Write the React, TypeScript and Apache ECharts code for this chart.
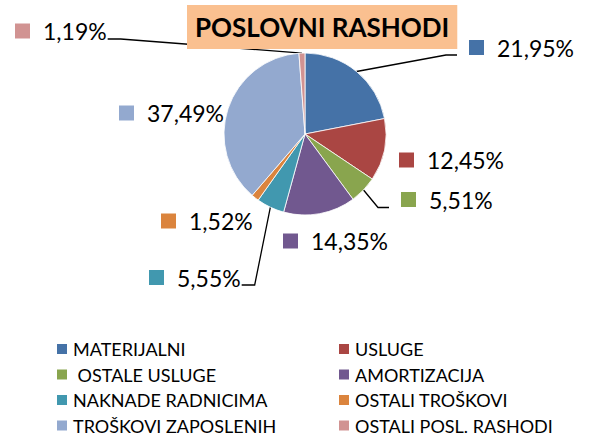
import React, { useEffect, useRef } from 'react';
import * as echarts from 'echarts';

// ---- data ----
const categories = [
  'MATERIJALNI',
  'USLUGE',
  ' OSTALE USLUGE',
  'AMORTIZACIJA',
  'NAKNADE RADNICIMA',
  'OSTALI TROŠKOVI',
  'TROŠKOVI ZAPOSLENIH',
  'OSTALI POSL. RASHODI',
];
const shares = [21.95, 12.45, 5.51, 14.35, 5.55, 1.52, 37.49, 1.19];
const leftLegendIdx = [0, 2, 4, 6];
const rightLegendIdx = [1, 3, 5, 7];
const titleText = 'POSLOVNI RASHODI';

// ---- styles / layout ----
const colors = ['#4572A7', '#AA4643', '#89A54E', '#71588F', '#4198AF', '#DB843D', '#93A9CF', '#D19392'];
const labelAnchors: [number, number][] = [
  [469, 47.5],
  [399, 160],
  [401, 199.5],
  [283, 241],
  [149, 277.5],
  [161, 221],
  [119, 113],
  [15, 31],
];
const leaderSide: (string | null)[] = ['left', null, 'left', null, 'right', null, null, 'right'];
const leaderDrop = [7.5, 0, 8, 0, 7.5, 0, 0, 8];

const fmt = (v: number) => v.toFixed(2).replace('.', ',') + '%';

export default function App() {
  const ref = useRef<HTMLDivElement>(null);
  useEffect(() => {
    document.body.style.margin = '0';
    if (!ref.current) return;
    const chart = echarts.init(ref.current, null, { renderer: 'svg' });
    const rich: any = {
      gap: { width: 13 },
      val: { fontSize: 23, fontFamily: 'Lato', color: '#000', lineHeight: 26 },
    };
    colors.forEach((c, i) => {
      rich['sq' + i] = { width: 15, height: 15, backgroundColor: c };
    });
    const legendCommon = {
      orient: 'vertical' as const,
      top: 339,
      height: 98,
      padding: 0,
      icon: 'rect',
      itemWidth: 12,
      itemHeight: 12,
      itemGap: 5.5,
      textStyle: { fontFamily: 'Lato', fontSize: 18, color: '#000', lineHeight: 20 },
    };
    chart.setOption({
      animation: false,
      color: colors,
      title: {
        text: titleText,
        left: 187,
        top: 5,
        padding: [7, 8],
        backgroundColor: '#FAC090',
        textStyle: { fontFamily: 'Lato', fontWeight: 'bold', fontSize: 26, color: '#000', lineHeight: 30 },
      },
      legend: [
        { ...legendCommon, left: 55, data: leftLegendIdx.map((i) => categories[i]) },
        { ...legendCommon, left: 337, data: rightLegendIdx.map((i) => categories[i]) },
      ],
      series: [
        {
          type: 'pie',
          center: [305, 134],
          radius: 81,
          startAngle: 90,
          clockwise: true,
          avoidLabelOverlap: false,
          emphasis: { disabled: true },
          itemStyle: { borderColor: '#fff', borderWidth: 0.8 },
          label: {
            show: true,
            position: 'outside',
            formatter: (p: any) => `{sq${p.dataIndex}|}{gap|}{val|${fmt(shares[p.dataIndex])}}`,
            rich,
          },
          labelLine: {
            show: true,
            length: 10,
            length2: 10,
            lineStyle: { color: '#000', width: 1.3 },
          },
          labelLayout: (params: any) => {
            const i = params.dataIndex;
            const [x, y] = labelAnchors[i];
            const res: any = { x, y, align: 'left', verticalAlign: 'middle' };
            const side = leaderSide[i];
            if (side && params.labelLinePoints) {
              const start = params.labelLinePoints[0];
              const w = params.labelRect.width;
              const ly = y + leaderDrop[i];
              if (side === 'left') {
                res.labelLinePoints = [start, [x - 23, ly], [x - 12, ly]];
              } else {
                res.labelLinePoints = [start, [x + w + 14, ly], [x + w + 1, ly]];
              }
            }
            return res;
          },
          data: categories.map((name, i) => ({
            name,
            value: shares[i],
            labelLine: { show: leaderSide[i] !== null },
          })),
        },
      ],
    });
    return () => chart.dispose();
  }, []);
  return <div ref={ref} style={{ width: 590, height: 437, position: 'absolute', left: 0, top: 0 }} />;
}
